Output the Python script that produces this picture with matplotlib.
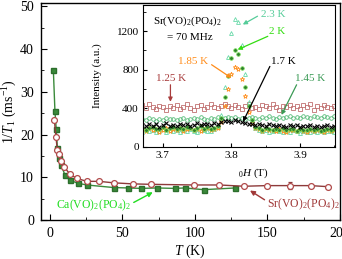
import matplotlib
matplotlib.use("Agg")
import matplotlib.pyplot as plt
from matplotlib.ticker import MultipleLocator

plt.rcParams['font.family'] = ['Liberation Serif', 'DejaVu Serif']
plt.rcParams['mathtext.fontset'] = 'custom'
plt.rcParams['mathtext.rm'] = 'Liberation Serif'
plt.rcParams['mathtext.it'] = 'Liberation Serif:italic'

# ---- main panel data: 1/T1 vs T ----
sr_T = [3.2, 4.3, 5.2, 6.4, 7.8, 9.8, 14, 18.6, 25.5, 34, 44, 57.6, 70, 99.4, 116.8, 134, 149.4, 165.5, 179.7, 191.9]
sr_rate = [23.4, 19.5, 16.5, 15.4, 13.8, 12.5, 10.7, 9.75, 9.05, 9.05, 8.7, 8.45, 8.35, 8.2, 8.2, 7.9, 8.05, 8.05, 8.05, 7.8]
sr_err = [0, 0, 0, 0, 0, 0, 0, 0, 0, 0, 0, 0, 0, 0, 0, 0, 0, 0.8, 0, 0]

ca_T = [2.5, 3.6, 4.5, 5.3, 6.5, 8.0, 10.5, 14, 19.5, 25.5, 44, 54, 63, 74, 86, 93, 106, 128]
ca_rate = [35.2, 25.5, 21.2, 16.8, 14.5, 12.8, 10.5, 9.3, 8.6, 8.2, 7.6, 7.5, 7.4, 7.5, 7.4, 7.5, 7.1, 7.5]

# ---- inset data: NMR spectra of Sr(VO)2(PO4)2 at 70 MHz ----
inset_H = [3.670, 3.675, 3.680, 3.685, 3.690, 3.695, 3.700, 3.705, 3.710, 3.715,
           3.720, 3.725, 3.730, 3.735, 3.740, 3.745, 3.750, 3.755, 3.760, 3.765,
           3.770, 3.775, 3.780, 3.785, 3.790, 3.795, 3.800, 3.805, 3.810, 3.815,
           3.820, 3.825, 3.830, 3.835, 3.840, 3.845, 3.850, 3.855, 3.860, 3.865,
           3.870, 3.875, 3.880, 3.885, 3.890, 3.895, 3.900, 3.905, 3.910, 3.915,
           3.920, 3.925, 3.930, 3.935, 3.940, 3.945, 3.950]
I_125K = [430, 405, 440, 415, 395, 425, 410, 380, 420, 400,
          435, 390, 415, 445, 405, 385, 420, 430, 395, 410,
          440, 415, 400, 425, 445, 420, 400, 430, 410, 395,
          425, 440, 405, 415, 390, 430, 420, 400, 440, 410,
          385, 425, 415, 435, 400, 420, 395, 430, 410, 440,
          380, 420, 405, 435, 415, 400, 425]
I_145K = [290, 275, 300, 285, 270, 295, 280, 300, 285, 290,
          275, 295, 305, 280, 290, 300, 285, 310, 295, 280,
          300, 290, 310, 295, 305, 315, 300, 310, 295, 305,
          290, 300, 315, 305, 295, 310, 300, 320, 305, 295,
          315, 300, 310, 325, 305, 315, 300, 320, 310, 305,
          325, 310, 300, 320, 315, 305, 320]
I_17K = [230, 215, 240, 220, 235, 210, 225, 245, 220, 230,
         215, 235, 225, 240, 220, 230, 245, 225, 235, 240,
         230, 250, 240, 255, 265, 270, 260, 275, 265, 255,
         250, 240, 235, 225, 240, 230, 220, 235, 225, 215,
         230, 220, 210, 225, 215, 230, 205, 220, 215, 225,
         210, 220, 205, 215, 225, 210, 220]
I_185K = [185, 165, 200, 175, 190, 160, 180, 195, 170, 185,
          175, 195, 165, 185, 200, 175, 190, 170, 185, 195,
          180, 190, 200, 260, 420, 600, 760, 830, 810, 700,
          530, 360, 250, 200, 185, 170, 190, 175, 180, 165,
          185, 170, 160, 180, 175, 165, 185, 170, 160, 175,
          165, 180, 170, 160, 175, 165, 180]
I_2K = [200, 180, 195, 210, 185, 190, 205, 180, 195, 210,
        185, 200, 190, 210, 195, 180, 200, 215, 190, 205,
        190, 200, 215, 300, 520, 740, 920, 1000, 960, 820,
        620, 420, 280, 210, 195, 180, 200, 185, 175, 190,
        180, 195, 175, 185, 190, 170, 185, 180, 175, 190,
        175, 185, 170, 180, 190, 175, 185]
I_23K = [160, 175, 165, 180, 155, 170, 185, 160, 175, 165,
         180, 160, 175, 170, 185, 165, 155, 175, 180, 165,
         170, 185, 210, 330, 620, 930, 1180, 1330, 1290, 1060,
         760, 470, 280, 200, 180, 165, 175, 160, 170, 180,
         165, 155, 170, 160, 175, 165, 150, 170, 160, 155,
         170, 160, 175, 155, 165, 170, 160]

W, H = 342, 259
fig = plt.figure(figsize=(W / 100, H / 100), dpi=100)

# main axes
ax = fig.add_axes([41 / W, 1 - 220 / H, (340 - 41) / W, (220 - 3) / H])
ax.plot(ca_T, ca_rate, '-s', color='#3a8a3a', mfc='#3a8a3a', mec='#2c6e2c',
        ms=3.6, lw=1.0, zorder=3)
ax.errorbar(sr_T, sr_rate, yerr=sr_err, fmt='-o', color='#8e3a3a', mfc='white',
            mec='#b04a4a', ms=4.2, mew=0.9, lw=1.0, elinewidth=0.8, capsize=1.5, zorder=4)
ax.set_xlim(-6, 200)
ax.set_ylim(0, 50.8)
ax.xaxis.set_major_locator(MultipleLocator(50))
ax.xaxis.set_minor_locator(MultipleLocator(25))
ax.yaxis.set_major_locator(MultipleLocator(10))
ax.yaxis.set_minor_locator(MultipleLocator(5))
ax.tick_params(which='both', direction='in', labelsize=10, pad=5)
ax.tick_params(which='major', length=4)
ax.tick_params(which='minor', length=2.5)
ax.set_xlabel(r'$T$ (K)', fontsize=10)
ax.xaxis.set_label_coords((190 - 41) / 299, -(243 - 220) / 217, transform=ax.transAxes)
ax.set_ylabel(r'1/$T_1$ (ms$^{-1}$)', fontsize=10)
ax.yaxis.set_label_coords(-(41 - 19) / 299, 0.5, transform=ax.transAxes)
ax.annotate('Ca(VO)$_2$(PO$_4$)$_2$', xy=(71, 6.5), xytext=(30, 3.4),
            color='#22dd22', fontsize=8.5, ha='center', va='center',
            arrowprops=dict(arrowstyle='-|>', color='#22dd22', lw=1.0,
                            mutation_scale=7, shrinkA=0, shrinkB=0,
                            relpos=(1.0, 0.6)))
ax.annotate('Sr(VO)$_2$(PO$_4$)$_2$', xy=(138, 6.9), xytext=(175, 3.6),
            color='#a03838', fontsize=8.5, ha='center', va='center',
            arrowprops=dict(arrowstyle='-|>', color='#a03838', lw=1.0,
                            mutation_scale=7, shrinkA=0, shrinkB=0,
                            relpos=(0.0, 0.7)))
for s in ax.spines.values():
    s.set_linewidth(1.0)

# inset axes
ins = fig.add_axes([143 / W, 1 - 147 / H, (335 - 143) / W, (147 - 5) / H])
ins.set_facecolor('white')
ins.plot(inset_H, I_125K, 's', ls='none', mfc='none', mec='#c07070', ms=2.6, mew=0.6)
ins.plot(inset_H, I_145K, 'o', ls='none', mfc='none', mec='#55bb77', ms=2.6, mew=0.6)
ins.plot(inset_H, I_23K, '^', ls='none', mfc='none', mec='#66d8a8', ms=2.8, mew=0.6)
ins.plot(inset_H, I_185K, '*', ls='none', mfc='none', mec='#ff9020', ms=3.4, mew=0.6)
ins.plot(inset_H, I_2K, 'o', ls='none', mfc='#2f7f2f', mec='#77e055', ms=2.6, mew=0.5)
ins.plot(inset_H, I_17K, 'x', ls='none', color='black', ms=2.6, mew=0.8)
ins.set_xlim(3.671, 3.951)
ins.set_ylim(0, 1470)
ins.xaxis.set_major_locator(MultipleLocator(0.1))
ins.xaxis.set_minor_locator(MultipleLocator(0.05))
ins.yaxis.set_major_locator(MultipleLocator(400))
ins.yaxis.set_minor_locator(MultipleLocator(200))
ins.tick_params(which='both', direction='in', labelsize=8, pad=3)
ins.tick_params(which='major', length=3)
ins.tick_params(which='minor', length=1.8)
ins.set_xlabel(r'$_0H$ (T)', fontsize=8)
ins.xaxis.set_label_coords((253 - 143) / 192, -(166 - 147) / 142, transform=ins.transAxes)
ins.set_ylabel('Intensity (a.u.)', fontsize=8)
ins.yaxis.set_label_coords(-(143 - 102) / 192, 0.5, transform=ins.transAxes)

ins.text(3.736, 1302, 'Sr(VO)$_2$(PO$_4$)$_2$', fontsize=8, ha='center', va='center')
ins.text(3.739, 1129, '= 70 MHz', fontsize=8, ha='center', va='center')


def lab(txt, xy, xytext, tail, col):
    ins.text(xytext[0], xytext[1], txt, color=col, fontsize=8, ha='center', va='center')
    ins.annotate('', xy=xy, xytext=tail,
                 arrowprops=dict(arrowstyle='-|>', color=col, lw=0.9,
                                 mutation_scale=6, shrinkA=0, shrinkB=0))


lab('2.3 K', (3.8165, 1268), (3.861, 1371), (3.838, 1354), '#55cc99')
lab('2 K', (3.809, 1008), (3.866, 1198), (3.853, 1146), '#33dd11')
lab('1.85 K', (3.800, 714), (3.7435, 886), (3.771, 852), '#ff8c1a')
lab('1.7 K', (3.817, 263), (3.875, 886), (3.856, 834), 'black')
lab('1.25 K', (3.711, 468), (3.712, 714), (3.711, 644), '#a83c3c')
lab('1.45 K', (3.873, 332), (3.914, 714), (3.895, 644), '#3a9a55')

fig.savefig('out.png', dpi=100)
